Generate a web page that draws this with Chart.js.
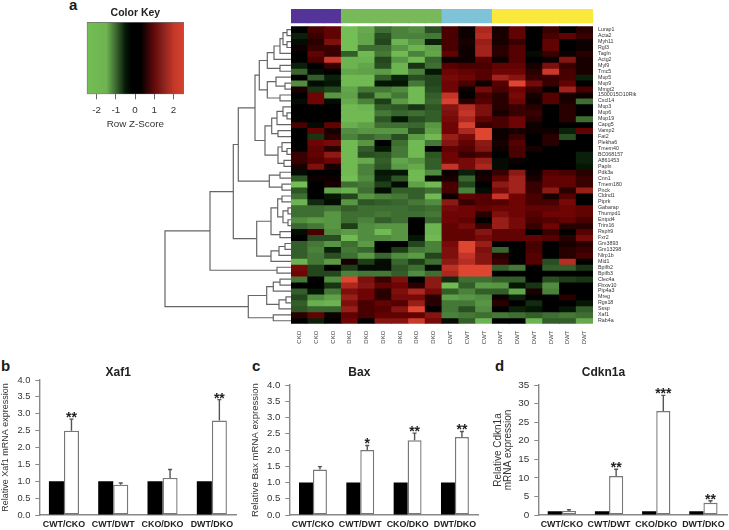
<!DOCTYPE html>
<html>
<head>
<meta charset="utf-8">
<title>Heatmap and qPCR panels</title>
<script src="https://cdn.jsdelivr.net/npm/chart.js@4"></script>
<style>
  html, body { margin: 0; padding: 0; background: #fff; }
  #page { position: relative; width: 729px; height: 530px; overflow: hidden; font-family: "Liberation Sans", Arial, sans-serif; }
  #page canvas { position: absolute; filter: blur(0.35px); }
  .letter { position: absolute; font-weight: bold; font-size: 15px; line-height: 15px; color: #1a1a1a; }
</style>
</head>
<body>
<div id="page">
  <div class="letter" style="left:69px;top:-3px">a</div>
  <div class="letter" style="left:1px;top:358px">b</div>
  <div class="letter" style="left:252px;top:358px">c</div>
  <div class="letter" style="left:495px;top:358px">d</div>
  <canvas id="key"></canvas>
  <canvas id="tree"></canvas>
  <canvas id="heat"></canvas>
  <canvas id="xaf1"></canvas>
  <canvas id="bax"></canvas>
  <canvas id="cdkn1a"></canvas>
</div>
<script>
const FONT = '"Liberation Sans", Arial, sans-serif';

// heatmap columns and rows
const samples = ['CKO','CKO','CKO','DKO','DKO','DKO','DKO','DKO','DKO','CWT','CWT','CWT','DWT','DWT','DWT','DWT','DWT','DWT'];
const genes = ['Lurap1','Acta2','Myh11','Rgl3','Tagln','Actg2','Myl9','Tmc5','Mup5','Mup9','Mmgt2','1500015O10Rik','Cxcl14','Mup3','Mup6','Mup19','Capg5','Vamp2','Fat2','Plekha6','Tmem40','BC068157','A861453','Papln','Pdk3a','Cnn1','Tmem180','Pnck','Cldnd1','Ptprk','Gabarap','Thumpd1','Entpd4','Trim16','Rsph9','Fxr2','Gm3893','Gm13298','Nlrp1b','Mid1','Bpifb2','Bpifb3','Clec4a','Fbxw10','Pip4a3','Mreg','Rgs18','Sssp','Xaf1','Rab4a'];
const sampleGroupColors = ['#55349a','#55349a','#55349a','#78b95a','#78b95a','#78b95a','#78b95a','#78b95a','#78b95a','#7fc3d9','#7fc3d9','#7fc3d9','#fae83c','#fae83c','#fae83c','#fae83c','#fae83c','#fae83c'];

// row z-scores, one line per gene
const zScores = [
  [0,.5,.7,-2.4,-2,-1.2,-1.4,-1.5,-.8,.5,.1,1.5,.2,.7,0,.4,0,.3],
  [-.3,.4,.7,-2.4,-1.9,-.8,-1.4,-1.4,-1.3,.5,.1,1.6,.2,.7,0,.5,.7,.4],
  [-.1,.3,1,-2.4,-1.9,-.7,-2.2,-1.6,-.3,.5,.2,1.3,.2,.4,0,.7,0,.1],
  [.1,.4,.4,-2.4,-1.2,-1.2,-1.6,-2.2,-1.8,.5,.1,1.4,.3,.6,0,.7,0,.1],
  [0,.7,.4,-1,-2.3,-1.3,-2.3,-1.4,-1.9,.7,.1,1.4,.3,.6,-.1,.4,.1,.3],
  [0,.5,1.9,-2.2,-2.2,-.7,-1.6,-2.3,-1.1,.1,.1,.6,.1,.6,0,.1,1.1,.2],
  [-.3,0,.4,-2.2,-1.9,-.8,-2.2,-.5,-1.2,.6,.5,.5,.7,.7,.2,1,.4,.2],
  [-1.1,-.1,0,-1.9,-1.8,-1.7,-2.2,-1.4,-.2,.8,.7,.6,.8,.8,.3,1.9,.5,.2],
  [0,-1,-.3,-2.3,-2.3,-1,-.3,-.8,-.7,.9,.8,.6,1.4,1.1,.4,.4,.5,-.3],
  [-1.5,-.1,-.2,-2.3,-2.3,-.2,-.2,-1.3,-.7,.8,.5,.1,.6,2.2,.9,.4,.7,0],
  [.2,-.5,-.7,-1.9,-1.3,-1.3,-1.5,-2.3,-.8,.8,.1,.9,.5,.8,.4,0,1.4,.5],
  [0,.8,-1.6,-1.8,-.8,-1.7,-1.3,-2.3,-1,1.8,0,.5,.3,.9,.2,.6,.2,.1],
  [-.1,.8,-.1,-2,-1.4,-.6,-1.7,-2.3,-1.1,2.1,.3,.6,.3,.8,.1,.6,.2,-1.2],
  [0,0,0,-2.3,-2.2,-1,-.9,-.5,-.9,1.1,1.6,1,.3,.4,.3,0,.3,0],
  [0,0,0,-2.3,-2.3,-1.3,-1.1,-1.2,-1,1,1.8,1,.2,.4,.4,0,.3,0],
  [0,0,0,-2.3,-2.3,-.9,-.2,-.8,-1,.9,1.5,.7,.5,.8,.3,0,.3,-1.2],
  [.5,-.1,.7,-2.1,-1.8,-1.2,-1.2,-1.1,-1.6,.8,2.1,.4,.5,.8,.1,0,0,0],
  [0,.7,.2,-1.5,-1.6,-1.6,-1.6,-.8,-1.8,.8,1.5,2.3,.1,.2,.1,.1,-.3,.7],
  [0,-.5,.3,-1.4,-1.1,-1.3,-.8,-1.7,-2.3,1.3,.9,2.3,.1,.4,0,.3,-.8,0],
  [0,.8,.9,-2.3,-1.6,0,-1.2,-2.3,-1.3,1.1,.7,1.2,.2,.6,0,.3,0,0],
  [0,.7,.3,-2.3,-1,-.2,-1.3,-2.3,0,.7,.6,1.1,.1,.5,.2,0,0,0],
  [.4,.7,1.2,-2.3,-.8,-.9,-1.3,-2.3,-.9,.8,.4,.5,0,.5,0,0,0,-.3],
  [.4,.6,.8,-2.3,-2,-1,-1.9,-1.6,-1,.8,.9,1.3,-.1,.1,0,0,0,-.3],
  [.2,1,.2,-2.3,-1.4,-.9,-1.7,-2,-1,1.8,.9,1.5,-.1,0,0,0,0,-.2],
  [-.1,0,0,-2.3,-1.4,-.2,-.2,-2.3,-1.5,.1,-.3,.1,.4,1.2,.1,.6,.5,.3],
  [-.9,.1,.1,-2.4,-1.5,-.3,-.9,-2.3,-.1,.2,-1.1,.2,.7,1.4,.2,.7,.7,.4],
  [-2.4,0,.2,-1.2,-1.3,-.6,-.1,-1.8,-2.3,.5,-.7,0,1.2,1.4,.4,.7,.7,.4],
  [-.9,0,-1.9,-2.1,-1.2,-.1,-1,-1,-1.2,.5,-1.4,-.1,.9,1.4,.4,1.2,.3,1.3],
  [-1.2,0,-.2,-.7,-1.6,-1.4,-1.3,-1,-2.3,.1,.7,.6,1.8,.8,.5,.2,.6,0],
  [-2.2,-.4,-.1,-1.6,-.9,-1,-1.1,-1.3,-1.5,1.2,.4,.6,.6,.8,.5,.5,.9,0],
  [-1.2,-1.2,-1.3,-1,-1.2,-1.2,-1.2,-1.1,-1.2,.9,.8,.7,.8,.8,.7,.7,.8,.7],
  [-1.2,-1.2,-1.6,-1.2,-1.2,-1.3,-1.2,-1.2,-1.3,.8,.8,.3,1,.8,.6,.8,.8,.7],
  [-1.5,-1.7,-1.6,-1.2,-1.4,-1,-1.2,0,-1.1,.8,.7,0,1.3,.9,.5,.6,.7,.5],
  [-1.1,-1.3,-1.6,-.6,-1.5,-1.6,-1.6,0,-2.2,.7,.9,.4,1.3,.9,.4,.8,.3,.3],
  [-.1,.5,-1.5,-1.7,-1.5,-2.3,-1.6,0,-2.2,.7,.7,1.1,.7,.7,0,.4,0,.6],
  [0,-.8,-.8,-2.3,-1.5,-1.5,-1.6,-.2,-2.3,.7,.7,.9,.7,.7,.7,.6,.3,.9],
  [-1,-1.3,-1.6,-1.2,-1.7,0,0,-.7,-1.4,.9,2.2,1.3,0,0,.5,0,.2,.3],
  [-1,-1.4,-.3,-1.3,-1.1,0,-.6,-1.3,-1.4,1,2.3,1,-1.1,0,.5,0,.3,.4],
  [-1,-1.3,-.8,-1.2,-1.7,-1.1,-1.5,-1.7,-.7,1,1.8,1.1,.3,0,.6,0,.3,.5],
  [-2.2,-1.3,-1.7,.2,-.6,-.1,-1.1,-.6,-1.2,1.2,1.6,1.1,.4,0,.6,-.8,1.6,0],
  [.9,-.7,0,-.6,-.1,-.1,-.9,-1.2,-.1,1.7,2.2,2.3,-1,-1.3,0,-1,-1,-.5],
  [.8,-.7,-.7,-1.4,-1.3,-1.3,-1,-1.5,-1.2,1.5,2.2,2.2,0,0,0,0,0,0],
  [-1.3,0,-1.5,2.3,1,.4,1,0,1.2,-.4,-1.2,-1.2,-1,-1,0,-.8,-.6,-.5],
  [0,0,-.5,1.5,1.1,.7,.8,.3,1.2,-2.3,-1,-1.7,-1.6,-.2,-.5,-1.5,0,0],
  [-1,-.2,-1.3,1,.8,.3,1,1.5,.9,-1,-1.4,-1,-1,-1.9,.2,-1.4,0,0],
  [-.7,-1.5,-1.8,1.3,.8,.3,.9,.9,.3,-1.8,-1.6,-1.5,.1,-.3,0,0,.3,0],
  [-1,-2.1,-2.2,1,.5,.7,.6,1.3,.3,-1.3,-1.3,-1.6,.3,0,-.4,0,0,-.2],
  [-.9,-1.1,-1.1,1.3,.5,.6,1.1,2.2,0,-1.3,-.8,-1.5,0,-.3,-.2,0,-.2,-1],
  [.3,.7,.1,.7,.5,.7,.7,.7,1.1,-1.4,-1.3,-1.2,-1.3,-1.2,-1,-1.2,-1.3,-1.2],
  [0,-.3,0,.8,0,1.1,1.1,1.9,.9,-.1,-1,-2.2,0,0,-2.2,-1,-1,-2]
];

// row dendrogram: [height, child, child], a bare number is a row index
const clusterTop = [31.7,
  [23.7, [17, [11, [8, [4, 0, 1], [4, 2, 3]], 4], 5], [11, 6, 7]],
  [23.7, [15, 8, [6, 9, 10]], [11, 11, 12]]
];
const clusterMid = [26,
  [19.3, [14, [8, 13, [4, 14, 15]], 16], [13, 17, 18]],
  [13, [9, 19, [4, 20, 21]], [7, 22, 23]]
];
const clusterLow = [34.3,
  [20, [13.3, [9, 28, 29], [8, [3, 30, 31], [3, 32, 33]]], [11, 34, 35]],
  [20, [12, [6, 36, 37], 38], 39]
];
const clusterEnd = [42.7,
  [24.3, [17.7, [11, 42, 43], 44], [12, [5, 45, 46], 47]],
  [17.7, 48, 49]
];
const dendrogram = [126,
  [81,
    [57.7,
      [52.7, [36, clusterTop, clusterMid], [21.7, [11, 24, 25], [9, 26, 27]]],
      clusterLow
    ],
    [14, 40, 41]
  ],
  clusterEnd
];

// bar panels
const pairs = ['CWT/CKO', 'CWT/DWT', 'CKO/DKO', 'DWT/DKO'];
const xaf1Base = [1, 1, 1, 1];
const xaf1Fold = [2.5, 0.9, 1.1, 2.8];
const xaf1Err = [0.34, 0.05, 0.25, 0.62];
const xaf1Stars = ['**', '', '', '**'];
const baxBase = [1, 1, 1, 1];
const baxFold = [1.4, 2.0, 2.3, 2.4];
const baxErr = [0.09, 0.14, 0.22, 0.17];
const baxStars = ['', '*', '**', '**'];
const cdkn1aBase = [1, 1, 1, 1];
const cdkn1aFold = [1.1, 10.5, 28, 3.3];
const cdkn1aErr = [0.3, 1.8, 4.2, 0.55];
const cdkn1aStars = ['', '**', '***', '**'];

// z -> colour stops for the cells and for the key
const cellStops = [[-2.4,115,190,85],[-1.6,88,150,68],[-1.2,62,110,50],[-.6,30,62,24],[-.2,5,22,5],[0,0,0,0],[.2,25,0,0],[.5,72,0,0],[.8,110,4,4],[1.2,140,26,20],[1.6,182,45,35],[2.2,222,70,50]];
const keyStops = [[-2.55,115,190,85],[-1.5,110,180,80],[-1,60,105,50],[-.5,5,25,5],[-.2,0,0,0],[.3,0,0,0],[1,100,10,10],[1.5,140,35,30],[2,195,55,40],[2.55,215,65,45]];

function cellColor(z) {
  const s = cellStops;
  if (z <= s[0][0]) return `rgb(${s[0][1]},${s[0][2]},${s[0][3]})`;
  for (let i = 1; i < s.length; i++) {
    if (z <= s[i][0]) {
      const t = (z - s[i-1][0]) / (s[i][0] - s[i-1][0]);
      const c = [1,2,3].map(k => Math.round(s[i-1][k] + t * (s[i][k] - s[i-1][k])));
      return `rgb(${c[0]},${c[1]},${c[2]})`;
    }
  }
  const l = s[s.length-1];
  return `rgb(${l[1]},${l[2]},${l[3]})`;
}

function place(id, left, top, width, height) {
  const c = document.getElementById(id);
  c.style.left = left + 'px';
  c.style.top = top + 'px';
  c.style.width = width + 'px';
  c.style.height = height + 'px';
  c.width = width;
  c.height = height;
  return c;
}

// the chart areas of heat and tree share this y range, in row units
const ROW_MIN = -3, ROW_MAX = 50;

// ---- heatmap
const heatDatasets = genes.map((g, r) => ({
  label: g,
  data: samples.map(() => [r, r + 1]),
  backgroundColor: zScores[r].map(cellColor),
  grouped: false,
  barPercentage: 1,
  categoryPercentage: 1,
  borderWidth: 0,
  inflateAmount: 0.4
}));
heatDatasets.push({
  label: 'group',
  data: samples.map(() => [-2.93, -0.67]),
  backgroundColor: sampleGroupColors,
  grouped: false,
  barPercentage: 1,
  categoryPercentage: 1,
  borderWidth: 0,
  inflateAmount: 0.4
});

new Chart(place('heat', 285, 0, 370, 350), {
  type: 'bar',
  data: { labels: samples, datasets: heatDatasets },
  options: {
    animation: false,
    responsive: false,
    devicePixelRatio: 1,
    layout: { padding: { left: 6, top: 8.9 } },
    plugins: { legend: { display: false }, tooltip: { enabled: false } },
    scales: {
      x: {
        grid: { display: false, drawTicks: false },
        border: { display: false },
        afterFit: s => { s.height = 26.3; },
        ticks: { autoSkip: false, minRotation: 90, maxRotation: 90, padding: 7, color: '#444', font: { family: FONT, size: 6 } }
      },
      y: {
        position: 'right',
        reverse: true,
        min: ROW_MIN,
        max: ROW_MAX,
        grid: { display: false, drawTicks: false },
        border: { display: false },
        afterFit: s => { s.width = 62; },
        afterBuildTicks: s => { s.ticks = genes.map((g, i) => ({ value: i + 0.5 })); },
        ticks: { autoSkip: false, padding: 5, color: '#333', font: { family: FONT, size: 5.3 }, callback: (v, i) => genes[i] }
      }
    }
  }
});

// ---- dendrogram, one dataset for each merge
const treeDatasets = [];
function walk(node) {
  if (typeof node === 'number') return { h: 0, y: node + 0.5 };
  const a = walk(node[1]), b = walk(node[2]);
  treeDatasets.push({
    data: [{ x: a.h, y: a.y }, { x: node[0], y: a.y }, { x: node[0], y: b.y }, { x: b.h, y: b.y }],
    showLine: true, pointRadius: 0, borderColor: '#666', borderWidth: 1.2, tension: 0
  });
  return { h: node[0], y: (a.y + b.y) / 2 };
}
walk(dendrogram);

new Chart(place('tree', 155, 0, 136, 330), {
  type: 'scatter',
  data: { datasets: treeDatasets },
  options: {
    animation: false,
    responsive: false,
    devicePixelRatio: 1,
    layout: { padding: { top: 8.9, bottom: 6.3 } },
    plugins: { legend: { display: false }, tooltip: { enabled: false } },
    scales: {
      x: { display: false, reverse: true, min: 0, max: 136 },
      y: { display: false, reverse: true, min: ROW_MIN, max: ROW_MAX }
    }
  }
});

// ---- colour key
const KEY_MIN = -2.52, KEY_MAX = 2.55;
new Chart(place('key', 60, 0, 150, 130), {
  type: 'bar',
  data: {
    labels: ['Row Z-Score'],
    datasets: [{
      data: [[KEY_MIN, KEY_MAX]],
      barPercentage: 1,
      categoryPercentage: 1,
      borderWidth: 1,
      borderSkipped: false,
      borderColor: '#6f6f6f',
      backgroundColor: ctx => {
        const a = ctx.chart.chartArea;
        if (!a) return '#000';
        const g = ctx.chart.ctx.createLinearGradient(a.left, 0, a.right, 0);
        keyStops.forEach(s => {
          const t = (s[0] - KEY_MIN) / (KEY_MAX - KEY_MIN);
          g.addColorStop(Math.max(0, Math.min(1, t)), `rgb(${s[1]},${s[2]},${s[3]})`);
        });
        return g;
      }
    }]
  },
  options: {
    indexAxis: 'y',
    animation: false,
    responsive: false,
    devicePixelRatio: 1,
    layout: { padding: { left: 26.7, right: 26 } },
    plugins: {
      legend: { display: false },
      tooltip: { enabled: false },
      title: { display: true, text: 'Color Key', color: '#222', font: { family: FONT, size: 10.5, weight: 'bold' }, padding: { top: 7, bottom: 2.4 } }
    },
    scales: {
      y: { display: false },
      x: {
        min: KEY_MIN,
        max: KEY_MAX,
        afterFit: s => { s.height = 35.7; },
        grid: { drawOnChartArea: false, color: '#666', tickLength: 5 },
        border: { display: false },
        ticks: { stepSize: 1, includeBounds: false, padding: 5, color: '#333', font: { family: FONT, size: 9.8 } },
        title: { display: true, text: 'Row Z-Score', color: '#333', font: { family: FONT, size: 9.8 }, padding: { top: 1, bottom: 0 } }
      }
    }
  }
});

// ---- bar panels. error whiskers and stars come from a small plugin that uses the chart scales
const whiskers = {
  id: 'whiskers',
  afterDatasetsDraw(chart, args, opts) {
    const { ctx, scales: { y } } = chart;
    const bars = chart.getDatasetMeta(1).data;
    ctx.save();
    bars.forEach((bar, i) => {
      const top = y.getPixelForValue(chart.data.datasets[1].data[i] + opts.err[i]);
      ctx.strokeStyle = '#555';
      ctx.lineWidth = 1.4;
      ctx.beginPath();
      ctx.moveTo(bar.x, bar.y);
      ctx.lineTo(bar.x, top);
      ctx.moveTo(bar.x - 2, top);
      ctx.lineTo(bar.x + 2, top);
      ctx.stroke();
      if (opts.stars[i]) {
        ctx.fillStyle = '#222';
        ctx.font = 'bold 14px ' + FONT;
        ctx.textAlign = 'center';
        ctx.textBaseline = 'alphabetic';
        ctx.fillText(opts.stars[i], bar.x, top + 3);
      }
    });
    ctx.restore();
  }
};

function panel(id, cfg) {
  const titleBox = cfg.plotTop - cfg.top;
  new Chart(place(id, cfg.left, cfg.top, cfg.width, 175), {
    type: 'bar',
    data: {
      labels: pairs,
      datasets: [
        { label: 'first group', data: cfg.base, backgroundColor: '#000', borderWidth: 0, barPercentage: 1, categoryPercentage: cfg.cat },
        { label: 'second group', data: cfg.fold, backgroundColor: '#fff', borderColor: '#777', borderWidth: 1.4, borderSkipped: false, barPercentage: 1, categoryPercentage: cfg.cat }
      ]
    },
    plugins: [whiskers],
    options: {
      animation: false,
      responsive: false,
      devicePixelRatio: 1,
      layout: { padding: { right: cfg.left + cfg.width - cfg.plotRight } },
      plugins: {
        legend: { display: false },
        tooltip: { enabled: false },
        whiskers: { err: cfg.err, stars: cfg.stars },
        title: {
          display: true,
          text: cfg.title,
          color: '#222',
          font: { family: FONT, size: 12, weight: 'bold', lineHeight: 1.2 },
          padding: { top: cfg.titleY - 7.2, bottom: titleBox - cfg.titleY - 7.2 }
        }
      },
      scales: {
        x: {
          grid: { display: false, drawTicks: false },
          border: { color: '#888', width: 1.4 },
          afterFit: s => { s.height = 15; },
          ticks: { autoSkip: false, maxRotation: 0, padding: 4, color: '#222', font: { family: FONT, size: 8.9, weight: 'bold' } }
        },
        y: {
          min: 0,
          max: cfg.max,
          afterFit: s => { s.width = cfg.plotLeft - cfg.left; },
          grid: { drawOnChartArea: false, color: '#888', tickLength: 4 },
          border: { color: '#888', width: 1.4 },
          ticks: { stepSize: cfg.step, padding: 5, color: '#333', font: { family: FONT, size: cfg.tickSize },
            callback: v => cfg.step < 1 ? v.toFixed(1) : v },
          title: { display: true, text: cfg.yTitle, color: '#333', font: { family: FONT, size: cfg.yTitleSize, lineHeight: cfg.yTitleLine }, padding: cfg.yTitlePad }
        }
      }
    }
  });
}

panel('xaf1', {
  left: 0, top: 355, width: 268, plotLeft: 39.3, plotRight: 236.5, plotTop: 380, cat: 0.61,
  base: xaf1Base, fold: xaf1Fold, err: xaf1Err, stars: xaf1Stars,
  title: 'Xaf1', titleY: 18, max: 4, step: 0.5, tickSize: 9.3,
  yTitle: 'Relative Xaf1 mRNA expression', yTitleSize: 9, yTitleLine: 1.2, yTitlePad: 0
});
panel('bax', {
  left: 240, top: 355, width: 286, plotLeft: 289.3, plotRight: 478.6, plotTop: 385, cat: 0.59,
  base: baxBase, fold: baxFold, err: baxErr, stars: baxStars,
  title: 'Bax', titleY: 17.5, max: 4, step: 0.5, tickSize: 9.6,
  yTitle: 'Relative Bax mRNA expression', yTitleSize: 9.6, yTitleLine: 1.2, yTitlePad: 10
});
panel('cdkn1a', {
  left: 480, top: 355, width: 308, plotLeft: 538.3, plotRight: 727, plotTop: 385, cat: 0.6,
  base: cdkn1aBase, fold: cdkn1aFold, err: cdkn1aErr, stars: cdkn1aStars,
  title: 'Cdkn1a', titleY: 17.5, max: 35, step: 5, tickSize: 9.9,
  yTitle: ['Relative Cdkn1a', 'mRNA expression'], yTitleSize: 10, yTitleLine: 0.93, yTitlePad: 14
});
</script>
</body>
</html>
